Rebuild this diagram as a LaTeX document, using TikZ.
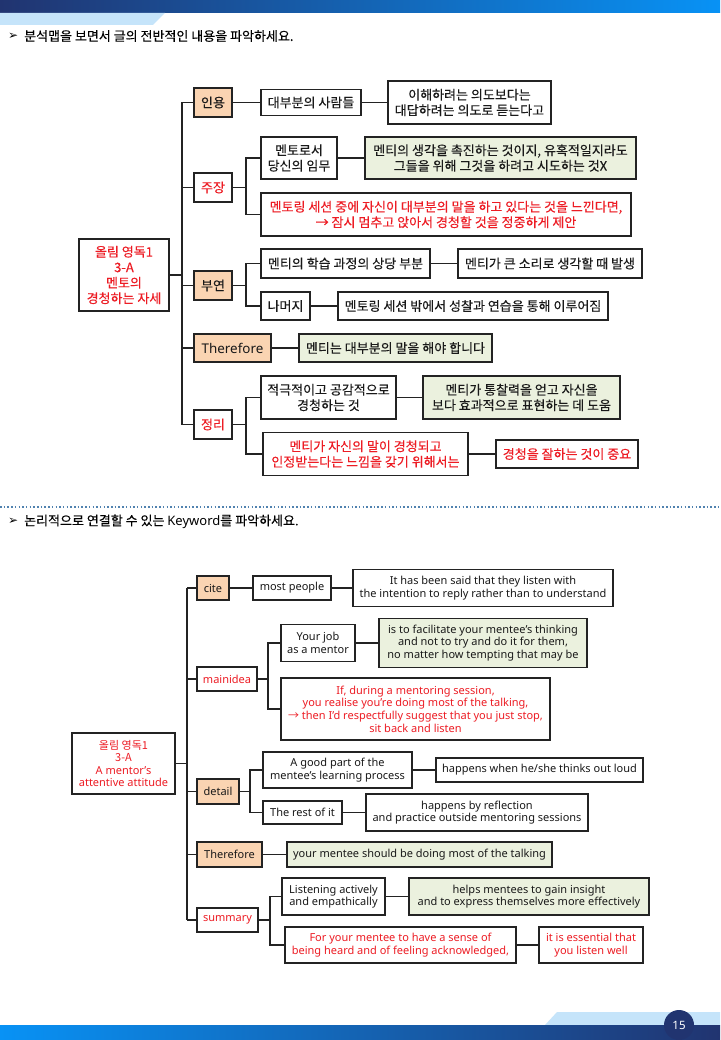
\documentclass[tikz,border=0pt]{standalone}
\usepackage{fontspec}
\setmainfont{Noto Sans}
\newfontfamily\kr[FakeBold=0.2]{Noto Sans CJK KR}
\newfontfamily\krl{Noto Sans CJK KR}
\newfontfamily\dv{DejaVu Sans}
\definecolor{peachc}{RGB}{250,212,178}
\definecolor{greenc}{RGB}{235,241,222}
\definecolor{redc}{RGB}{237,28,36}
\definecolor{bordc}{RGB}{35,35,35}
\definecolor{navyc}{RGB}{33,52,112}
\definecolor{brightc}{RGB}{8,146,245}
\definecolor{lightc}{RGB}{197,228,250}
\definecolor{dotc}{RGB}{80,130,175}
\newcommand{\mybox}[6]{\node[box,#1,minimum width=#4pt,minimum height=#5pt] (#2) at (#3) {#6};}
\begin{document}
\begin{tikzpicture}[x=1pt,y=-1pt,
  box/.style={draw=bordc,line width=1.3pt,align=center,inner sep=0pt,fill=white,text=black!90},
  up/.style={font=\kr\fontsize{13}{15.5}\selectfont},
  lo/.style={font=\fontsize{11}{12.6}\selectfont,line width=1.2pt},
  pe/.style={fill=peachc},
  gr/.style={fill=greenc},
  rd/.style={text=redc},
  conn/.style={draw=bordc,line width=1.3pt},
  title/.style={anchor=west,inner sep=0pt,font=\kr\fontsize{13}{15}\selectfont}]
\useasboundingbox (0,0) rectangle (720,1040);
\fill[white] (0,0) rectangle (720,1040);
% banners
\shade[left color=navyc,right color=brightc] (0,0) rectangle (720,13);
\fill[lightc] (0,13) -- (165,13) -- (153,25) -- (0,25) -- cycle;
\fill[lightc] (557,1012) -- (720,1012) -- (720,1025) -- (545,1025) -- cycle;
\shade[left color=brightc,right color=navyc] (0,1025) rectangle (720,1040);
\node[circle,fill=navyc,minimum size=30pt,inner sep=0pt,text=white,font=\fontsize{11.5}{13}\selectfont] (pnum) at (679,1025) {15};
% titles
\node[anchor=west,inner sep=0pt,font=\dv\fontsize{12}{13}\selectfont] (arr1) at (8,36) {➢};
\node[title] (title1) at (24,36) {분석맵을 보면서 글의 전반적인 내용을 파악하세요.};
\draw[dotc,line width=1.5pt,dash pattern=on 1.5pt off 2.2pt] (0,507) -- (720,507);
\node[anchor=west,inner sep=0pt,font=\dv\fontsize{12}{13}\selectfont] (arr2) at (8,521.5) {➢};
\node[title] (title2) at (24,521.5) {논리적으로 연결할 수 있는 {\normalfont\fontsize{13}{15}\selectfont Keyword}를 파악하세요.};
% ---------- upper map ----------
\mybox{up,rd}{root1}{124,275}{90}{72}{올림 영독1\\3-A\\멘토의\\경청하는 자세}
\mybox{up,pe}{inyong}{213,102.5}{38}{29}{인용}
\mybox{up}{daebubun}{311,102.5}{100}{26}{대부분의 사람들}
\mybox{up}{ihae}{469.5,102.5}{163}{43}{이해하려는 의도보다는\\대답하려는 의도로 듣는다고}
\mybox{up,rd}{jujang}{213,187.5}{38}{29}{주장}
\mybox{up}{mentoro}{299,158}{76}{42}{멘토로서\\당신의 임무}
\mybox{up,gr}{mentisaeng}{500.5,158}{271}{42}{멘티의 생각을 촉진하는 것이지, 유혹적일지라도\\그들을 위해 그것을 하려고 시도하는 것X}
\mybox{up,rd}{mentoring}{446,214.5}{370}{43}{멘토링 세션 중에 자신이 대부분의 말을 하고 있다는 것을 느낀다면,\\→ 잠시 멈추고 앉아서 경청할 것을 정중하게 제안}
\mybox{up,pe}{buyeon}{213,285.5}{38}{29}{부연}
\mybox{up}{hakseup}{345.5,263.5}{169}{29}{멘티의 학습 과정의 상당 부분}
\mybox{up}{keun}{550,263.5}{184}{29}{멘티가 큰 소리로 생각할 때 발생}
\mybox{up}{nameoji}{285.5,306}{49}{28}{나머지}
\mybox{up}{bakeseo}{473,306}{270}{28}{멘토링 세션 밖에서 성찰과 연습을 통해 이루어짐}
\mybox{up,pe,font=\fontsize{13.4}{15}\selectfont}{therefore1}{232.5,348}{77}{28}{Therefore}
\mybox{up,gr}{mentineun}{395.5,348}{193}{28}{멘티는 대부분의 말을 해야 합니다}
\mybox{up,rd}{jeongri}{213,424.5}{38}{29}{정리}
\mybox{up}{jeokgeuk}{328.5,397.5}{135}{43}{적극적이고 공감적으로\\경청하는 것}
\mybox{up,gr}{tongchal}{521.5,397.5}{197}{43}{멘티가 통찰력을 얻고 자신을\\보다 효과적으로 표현하는 데 도움}
\mybox{up,rd}{jasin}{365.5,454}{205}{43}{멘티가 자신의 말이 경청되고\\인정받는다는 느낌을 갖기 위해서는}
\mybox{up,rd}{gyeong}{567,454}{142}{28}{경청을 잘하는 것이 중요}
\coordinate (T1) at (182,0);
\coordinate (S1) at (246,0);
\draw[conn] (root1.east) -- (root1.east -| T1);
\draw[conn] (inyong.west -| T1) -- (jeongri.west -| T1);
\foreach \n in {inyong,jujang,buyeon,therefore1,jeongri}{\draw[conn] (\n.west) -- (\n.west -| T1);}
\draw[conn] (inyong.east) -- (daebubun.west);
\draw[conn] (daebubun.east) -- (ihae.west);
\draw[conn] (jujang.east) -- (jujang.east -| S1);
\draw[conn] (mentoro.west) -- (mentoro.west -| S1) |- (mentoring.west);
\draw[conn] (mentoro.east) -- (mentisaeng.west);
\draw[conn] (buyeon.east) -- (buyeon.east -| S1);
\draw[conn] (hakseup.west) -- (hakseup.west -| S1) |- (nameoji.west);
\draw[conn] (hakseup.east) -- (keun.west);
\draw[conn] (nameoji.east) -- (bakeseo.west);
\draw[conn] (therefore1.east) -- (mentineun.west);
\draw[conn] (jeongri.east) -- (jeongri.east -| S1);
\draw[conn] (jeokgeuk.west) -- (jeokgeuk.west -| S1) |- (jasin.west);
\draw[conn] (jeokgeuk.east) -- (tongchal.west);
\draw[conn] (jasin.east) -- (gyeong.west);
% ---------- lower map ----------
\mybox{lo,rd}{root2}{123.5,763.5}{103}{61}{{\krl 올림 영독1}\\{\krl 3-A}\\A mentor’s\\attentive attitude}
\mybox{lo,pe}{cite}{213,588}{32}{24}{cite}
\mybox{lo}{mostp}{292,588}{78}{24}{most people}
\mybox{lo}{itsaid}{483,588}{260}{37}{It has been said that they listen with\\the intention to reply rather than to understand}
\mybox{lo,rd}{mainidea}{227,679}{60}{24}{mainidea}
\mybox{lo}{yourjob}{318,643}{74}{37}{Your job\\as a mentor}
\mybox{lo,gr}{facil}{483,643}{208}{49}{is to facilitate your mentee’s thinking\\and not to try and do it for them,\\no matter how tempting that may be}
\mybox{lo,rd}{ifdur}{415.5,709}{269}{62}{If, during a mentoring session,\\you realise you’re doing most of the talking,\\{\krl →} then I’d respectfully suggest that you just stop,\\sit back and listen}
\mybox{lo,pe}{detail}{218,791.5}{42}{25}{detail}
\mybox{lo}{goodpart}{337.5,770}{149}{36}{A good part of the\\mentee’s learning process}
\mybox{lo}{outloud}{539.5,770}{207}{24}{happens when he/she thinks out loud}
\mybox{lo}{restof}{302.5,812.5}{79}{23}{The rest of it}
\mybox{lo}{byrefl}{477,812.5}{222}{37}{happens by reflection\\and practice outside mentoring sessions}
\mybox{lo,pe}{therefore2}{229.5,854.5}{65}{25}{Therefore}
\mybox{lo,gr}{yourmentee}{419.5,854.5}{265}{25}{your mentee should be doing most of the talking}
\mybox{lo,rd}{summary}{227.5,920}{61}{24}{summary}
\mybox{lo}{listening}{333.5,896.5}{103}{37}{Listening actively\\and empathically}
\mybox{lo,gr}{helps}{529,896.5}{240}{37}{helps mentees to gain insight\\and to express themselves more effectively}
\mybox{lo,rd}{foryour}{400.5,945}{231}{36}{For your mentee to have a sense of\\being heard and of feeling acknowledged,}
\mybox{lo,rd}{essential}{591,945}{104}{36}{it is essential that\\you listen well}
\coordinate (T2) at (187,0);
\coordinate (S2) at (268,0);
\coordinate (S3) at (250,0);
\coordinate (S4) at (270,0);
\draw[conn,line width=1.2pt] (root2.east) -- (root2.east -| T2);
\draw[conn,line width=1.2pt] (cite.west -| T2) -- (summary.west -| T2);
\foreach \n in {cite,mainidea,detail,therefore2,summary}{\draw[conn,line width=1.2pt] (\n.west) -- (\n.west -| T2);}
\draw[conn,line width=1.2pt] (cite.east) -- (mostp.west);
\draw[conn,line width=1.2pt] (mostp.east) -- (itsaid.west);
\draw[conn,line width=1.2pt] (mainidea.east) -- (mainidea.east -| S2);
\draw[conn,line width=1.2pt] (yourjob.west) -- (yourjob.west -| S2) |- (ifdur.west);
\draw[conn,line width=1.2pt] (yourjob.east) -- (facil.west);
\draw[conn,line width=1.2pt] (detail.east) -- (detail.east -| S3);
\draw[conn,line width=1.2pt] (goodpart.west) -- (goodpart.west -| S3) |- (restof.west);
\draw[conn,line width=1.2pt] (goodpart.east) -- (outloud.west);
\draw[conn,line width=1.2pt] (restof.east) -- (byrefl.west);
\draw[conn,line width=1.2pt] (therefore2.east) -- (yourmentee.west);
\draw[conn,line width=1.2pt] (summary.east) -- (summary.east -| S4);
\draw[conn,line width=1.2pt] (listening.west) -- (listening.west -| S4) |- (foryour.west);
\draw[conn,line width=1.2pt] (listening.east) -- (helps.west);
\draw[conn,line width=1.2pt] (foryour.east) -- (essential.west);
\end{tikzpicture}
\end{document}
